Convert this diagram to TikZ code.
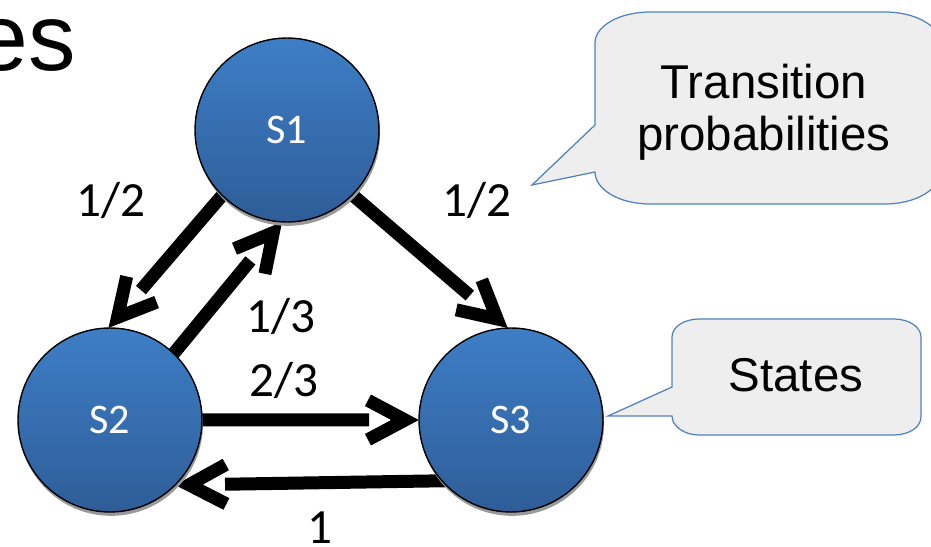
\documentclass[tikz,border=0pt]{standalone}
\usepackage{fontspec}
\setmainfont{Liberation Sans}
\newfontfamily\carl{Carlito}
\usetikzlibrary{calc,shadows}
\definecolor{ctop}{RGB}{62,126,198}
\definecolor{cbot}{RGB}{46,93,152}
\definecolor{cbord}{RGB}{79,129,189}
\definecolor{cfill}{RGB}{238,238,238}
\pgfdeclarelayer{bg}
\pgfsetlayers{bg,main}
\newcommand\tarrow[2]{%
  \path ($(#2)!0.28cm!(#1)$) coordinate (tp);
  \draw[shaft] (#1) -- ($(tp)!0.72cm!(#1)$);
  \draw[vhead] ($(tp)!0.84cm!28:(#1)$) -- (tp) -- ($(tp)!0.84cm!-28:(#1)$);
}
\begin{document}
\begin{tikzpicture}[x=0.02cm,y=-0.02cm,
  state/.style={circle, minimum size=3.68cm, inner sep=0pt, outer sep=0pt,
    draw=black, line width=0.8pt, top color=ctop, bottom color=cbot,
    text=white, font=\carl\fontsize{24}{28}\selectfont,
    drop shadow={shadow xshift=0.6pt, shadow yshift=-2.2pt, fill=black!40, opacity=1}},
  shaft/.style={line width=0.26cm, line cap=butt},
  vhead/.style={line width=0.26cm, line cap=butt, line join=miter},
  prob/.style={font=\carl\fontsize{28}{32}\selectfont, anchor=base, inner sep=0pt},
  callout/.style={draw=cbord, fill=cfill, line width=0.7pt},
  ctext/.style={font=\fontsize{27}{29.5}\selectfont, inner sep=0pt}
]
\useasboundingbox (0,0) rectangle (931,547);
\clip (0,0) rectangle (931,547);

% partial title
\node[font=\fontsize{54}{60}\selectfont, anchor=base east, inner sep=0pt] (es) at (76,71) {es};

% states
\node[state] (S1) at (287,130) {\raisebox{-0.1cm}{S1}};
\node[state] (S2) at (110,420) {\raisebox{-0.1cm}{S2}};
\node[state] (S3) at (511,420) {\raisebox{-0.1cm}{S3}};

% transitions
\coordinate (a1) at ($(S1)!0.95!(S1.225)$);
\coordinate (a2) at ($(S2)!0.95!(S2.46)$);
\coordinate (a3) at ($(S1)!0.95!(S1.315)$);
\coordinate (a4) at ($(S2)!0.95!(S2.0)$);
\coordinate (a5) at ($(S3)!0.95!(S3.224)$);
\begin{pgfonlayer}{bg}
  \tarrow{a1}{S2.91}
  \tarrow{a2}{S1.267}
  \tarrow{a3}{S3.92}
  \tarrow{a4}{S3.180}
  \tarrow{a5}{S2.315}
\end{pgfonlayer}

% labels
\node[prob] (l1) at (111,217) {1/2};
\node[prob] (l2) at (477,217) {1/2};
\node[prob] (l3) at (281,333) {1/3};
\node[prob] (l4) at (284,397) {2/3};
\node[prob] (l5) at (320,544) {1};

% callout: transition probabilities
\path[callout] (595,125) -- (532,185) -- (595,172)
  .. controls (595,189.7) and (619.6,204) .. (650,204)
  -- (885,204) .. controls (915.4,204) and (940,189.7) .. (940,172)
  -- (940,43) .. controls (940,25.9) and (915.4,12) .. (885,12)
  -- (650,12) .. controls (619.6,12) and (595,25.9) .. (595,43) -- cycle;
\node[ctext, align=center] (tpt) at (764,112) {Transition\\probabilities};

% callout: states
\path[callout] (672,387) -- (608,416) -- (672,416)
  .. controls (672,426) and (684,435) .. (699,435)
  -- (894,435) .. controls (909,435) and (921,427) .. (921,417)
  -- (921,337) .. controls (921,327) and (909,319) .. (894,319)
  -- (699,319) .. controls (684,319) and (672,327) .. (672,337) -- cycle;
\node[ctext, anchor=base] (stt) at (796,392) {States};
\end{tikzpicture}
\end{document}
